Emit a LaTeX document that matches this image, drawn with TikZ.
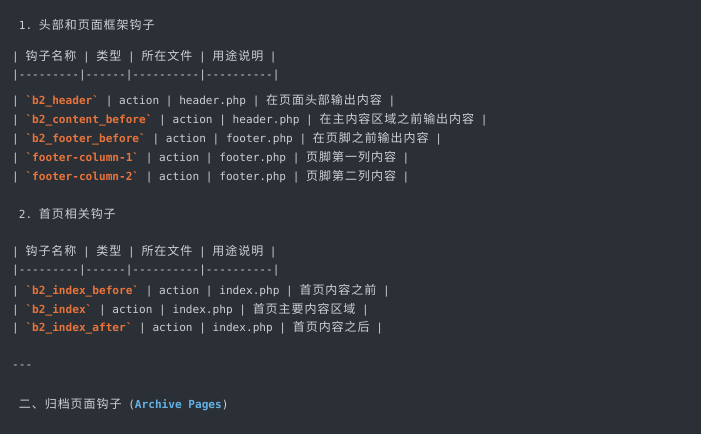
\documentclass[tikz,border=0pt]{standalone}
\usepackage{fontspec}
\setmonofont{DejaVu Sans Mono}
\newfontfamily\cjk[LetterSpace=8]{Noto Sans CJK SC}
\definecolor{bg}{HTML}{2B2F36}
\definecolor{fg}{HTML}{CDD0D5}
\definecolor{hk}{HTML}{E8743A}
\definecolor{bl}{HTML}{62B4E6}
\newcommand{\myC}[1]{{\cjk\fontsize{12}{12}\selectfont #1}}
\newcommand{\myH}[1]{\textcolor{hk}{\bfseries #1}}
\tikzset{ln/.style={anchor=west,inner sep=0pt,text=fg,font=\ttfamily\fontsize{11.1}{12}\selectfont}}
\begin{document}
\begin{tikzpicture}[x=1pt,y=-1pt]
\fill[bg] (0,0) rectangle (701,434);
\useasboundingbox (0,0) rectangle (701,434);
\node[ln] (t1) at (12,25) {\ 1. \myC{头部和页面框架钩子}};
\node[ln] (h1) at (12,57) {| \myC{钩子名称} | \myC{类型} | \myC{所在文件} | \myC{用途说明} |};
\node[ln] (s1) at (12,76) {|---------|------|----------|----------|};
\node[ln] (r1) at (12,101) {| \myH{`b2\_header`} | action | header.php | \myC{在页面头部输出内容} |};
\node[ln] (r2) at (12,120) {| \myH{`b2\_content\_before`} | action | header.php | \myC{在主内容区域之前输出内容} |};
\node[ln] (r3) at (12,139) {| \myH{`b2\_footer\_before`} | action | footer.php | \myC{在页脚之前输出内容} |};
\node[ln] (r4) at (12,158) {| \myH{`footer-column-1`} | action | footer.php | \myC{页脚第一列内容} |};
\node[ln] (r5) at (12,177) {| \myH{`footer-column-2`} | action | footer.php | \myC{页脚第二列内容} |};
\node[ln] (t2) at (12,214) {\ 2. \myC{首页相关钩子}};
\node[ln] (h2) at (12,252) {| \myC{钩子名称} | \myC{类型} | \myC{所在文件} | \myC{用途说明} |};
\node[ln] (s2) at (12,271) {|---------|------|----------|----------|};
\node[ln] (q1) at (12,291) {| \myH{`b2\_index\_before`} | action | index.php | \myC{首页内容之前} |};
\node[ln] (q2) at (12,310) {| \myH{`b2\_index`} | action | index.php | \myC{首页主要内容区域} |};
\node[ln] (q3) at (12,328) {| \myH{`b2\_index\_after`} | action | index.php | \myC{首页内容之后} |};
\node[ln] (hr) at (12,367) {---};
\node[ln] (t3) at (12,405) {\ \myC{二、归档页面钩子} (\textcolor{bl}{\bfseries Archive Pages})};
\end{tikzpicture}
\end{document}
